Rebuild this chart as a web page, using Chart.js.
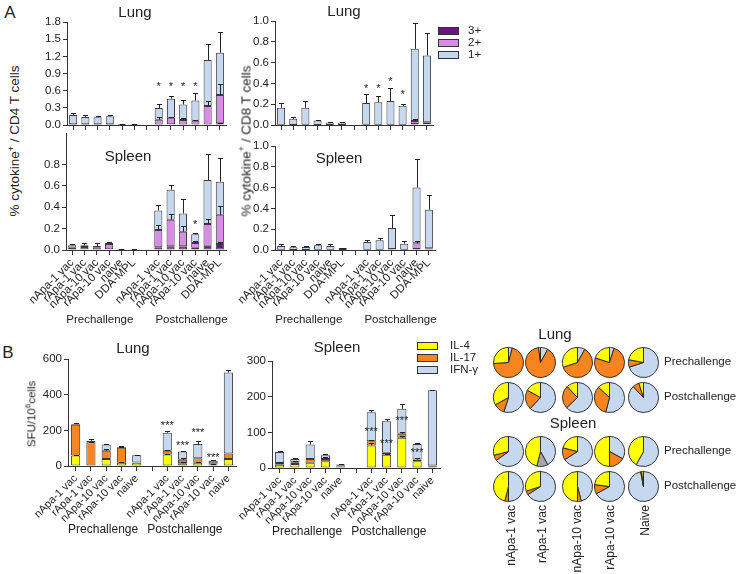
<!DOCTYPE html>
<html>
<head>
<meta charset="utf-8">
<script src="https://cdn.jsdelivr.net/npm/chart.js@4.4.1/dist/chart.umd.min.js"></script>
<style>
  body { margin: 0; background: #fff; }
  #fig { position: relative; width: 738px; height: 574px; overflow: hidden;
         font-family: 'Liberation Sans', Arial, sans-serif; color: #222; }
  #fig canvas { position: absolute; }
  .txt { position: absolute; white-space: nowrap; line-height: 1; }
  .key { position: absolute; width: 19px; height: 6px; border: 1px solid #333; }
</style>
</head>
<body>
<div id="fig"></div>
<script>
/* ================= DATA ================= */
const categoriesA = ['nApa-1 vac', 'rApa-1 vac', 'nApa-10 vac', 'rApa-10 vac', 'naive', 'DDA-MPL', '',
                     'nApa-1 vac', 'rApa-1 vac', 'nApa-10 vac', 'rApa-10 vac', 'naive', 'DDA-MPL'];
const categoriesB = ['nApa-1 vac', 'rApa-1 vac', 'nApa-10 vac', 'rApa-10 vac', 'naive', '',
                     'nApa-1 vac', 'rApa-1 vac', 'nApa-10 vac', 'rApa-10 vac', 'naive'];
const pieCategories = ['nApa-1 vac', 'rApa-1 vac', 'nApa-10 vac', 'rApa-10 vac', 'Naive'];
const phases = ['Prechallenge', 'Postchallenge'];

// A: % cytokine+ CD4 / CD8 T cells (stack: 3+, 2+, 1+) and SEM of each segment
const lungCd4_3 = [0.005, 0.005, 0.005, 0.005, 0.003, 0.002, null, 0.012, 0.015, 0.012, 0.010, 0.012, 0.034];
const lungCd4_2 = [0.010, 0.008, 0.008, 0.010, 0.005, 0.002, null, 0.080, 0.115, 0.075, 0.065, 0.320, 0.490];
const lungCd4_1 = [0.162, 0.130, 0.124, 0.139, 0.005, 0.004, null, 0.208, 0.330, 0.273, 0.355, 0.805, 0.739];
const lungCd4_err3 = [0, 0, 0, 0, 0, 0, null, 0, 0, 0, 0, 0, 0.01];
const lungCd4_err2 = [0, 0, 0, 0, 0, 0, null, 0.05, 0.01, 0.035, 0.02, 0.085, 0.196];
const lungCd4_err1 = [0.04, 0.034, 0.029, 0.026, 0.004, 0.003, null, 0.06, 0.04, 0.086, 0.13, 0.28, 0.36];
const lungCd4_stars = [null, null, null, null, null, null, null, 0.70, 0.70, 0.70, 0.70, null, null];

const lungCd8_3 = [0, 0, 0, 0, 0, 0, null, 0, 0, 0, 0, 0.010, 0.008];
const lungCd8_2 = [0.003, 0.002, 0.003, 0.002, 0.001, 0.001, null, 0.004, 0.004, 0.004, 0.003, 0.030, 0.020];
const lungCd8_1 = [0.163, 0.058, 0.163, 0.042, 0.024, 0.024, null, 0.209, 0.216, 0.228, 0.182, 0.693, 0.640];
const lungCd8_err3 = [0, 0, 0, 0, 0, 0, null, 0, 0, 0, 0, 0, 0];
const lungCd8_err2 = [0, 0, 0, 0, 0, 0, null, 0, 0, 0, 0, 0.02, 0];
const lungCd8_err1 = [0.047, 0.02, 0.066, 0.009, 0.005, 0.003, null, 0.082, 0.06, 0.122, 0.019, 0.251, 0.216];
const lungCd8_stars = [null, null, null, null, null, null, null, 0.37, 0.37, 0.43, 0.31, null, null];

const spleenCd4_3 = [0.005, 0.006, 0.005, 0.008, 0.003, 0.002, null, 0.025, 0.034, 0.034, 0.020, 0.040, 0.056];
const spleenCd4_2 = [0.015, 0.022, 0.020, 0.048, 0.003, 0.001, null, 0.162, 0.249, 0.137, 0.045, 0.203, 0.274];
const spleenCd4_1 = [0.024, 0.016, 0.012, 0.012, 0.004, 0.002, null, 0.183, 0.280, 0.171, 0.081, 0.410, 0.308];
const spleenCd4_err3 = [0, 0, 0, 0, 0, 0, null, 0, 0, 0, 0, 0, 0.022];
const spleenCd4_err2 = [0, 0, 0, 0, 0, 0, null, 0.046, 0.057, 0.053, 0.019, 0.047, 0.077];
const spleenCd4_err1 = [0.016, 0.018, 0.025, 0.007, 0.003, 0.002, null, 0.053, 0.047, 0.134, 0.013, 0.243, 0.217];
const spleenCd4_stars = [null, null, null, null, null, null, null, null, null, null, 0.25, null, null];

const spleenCd8_3 = [0, 0, 0, 0, 0, 0, null, 0, 0, 0.005, 0, 0.010, 0.005];
const spleenCd8_2 = [0.002, 0.001, 0.001, 0.002, 0.002, 0.001, null, 0.003, 0.003, 0.005, 0.002, 0.054, 0.011];
const spleenCd8_1 = [0.036, 0.025, 0.028, 0.043, 0.036, 0.018, null, 0.074, 0.090, 0.202, 0.059, 0.536, 0.372];
const spleenCd8_err3 = [0, 0, 0, 0, 0, 0, null, 0, 0, 0, 0, 0, 0];
const spleenCd8_err2 = [0, 0, 0, 0, 0, 0, null, 0, 0, 0, 0, 0.026, 0];
const spleenCd8_err1 = [0.022, 0.012, 0.013, 0.01, 0.022, 0.002, null, 0.016, 0.022, 0.128, 0.022, 0.276, 0.138];
const spleenCd8_stars = [null, null, null, null, null, null, null, null, null, null, null, null, null];

// B: SFU per 10^6 cells (stack: IL-4, IL-17, IFN-γ)
const lungIl4  = [59, 3, 39, 18, 18, null, 64, 15, 18, 9, 39];
const lungIl17 = [172, 130, 46, 85, 2, null, 21, 20, 26, 6, 31];
const lungIfn  = [6, 9, 36, 5, 40, null, 102, 47, 79, 14, 454];
const lungIl4Err  = [5, 0, 0, 6, 0, null, 6, 6, 5, 3, 0];
const lungIl17Err = [0, 4, 8, 4, 0, null, 6, 8, 0, 0, 0];
const lungIfnErr  = [5, 8, 3, 6, 2, null, 7, 4, 17, 3, 14];
const lungStars   = [null, null, null, null, null, null, 238, 125, 198, 58, null];

const spleenIl4  = [9, 11, 15, 19, 4, null, 63, 37, 85, 19, 5];
const spleenIl17 = [5, 5, 10, 6, 2, null, 12, 6, 11, 5, 2];
const spleenIfn  = [31, 9, 41, 11, 4, null, 81, 88, 70, 43, 211];
const spleenIl4Err  = [0, 0, 0, 0, 0, null, 8, 2, 4, 0, 0];
const spleenIl17Err = [2, 3, 0, 5, 0, null, 4, 0, 5, 3, 0];
const spleenIfnErr  = [2, 3, 10, 2, 2, null, 7, 6, 14, 2, 2];
const spleenStars   = [null, null, null, null, null, null, 106, 73, 137, 48, null];

// B pies: share of response, % (IFN-γ, other, IL-17, IL-4)
const lungPreIfn = [4, 8, 8, 5, 70];
const lungPreOther = [0, 0, 0, 0, 0];
const lungPreIl17 = [70, 90, 62, 75, 8];
const lungPreIl4 = [26, 2, 30, 20, 22];
const lungPostIfn = [55, 62, 63, 54, 88];
const lungPostOther = [0, 0, 0, 0, 0];
const lungPostIl17 = [12, 21, 25, 33, 7];
const lungPostIl4 = [33, 17, 12, 13, 5];
const spleenPreIfn = [65, 42, 66, 33, 58];
const spleenPreOther = [0, 12, 0, 0, 0];
const spleenPreIl17 = [6, 0, 13, 17, 0];
const spleenPreIl4 = [29, 46, 21, 50, 42];
const spleenPostIfn = [50, 66, 46, 67, 97];
const spleenPostOther = [0, 0, 0, 0, 0];
const spleenPostIl17 = [4, 4, 4, 10, 1];
const spleenPostIl4 = [46, 30, 50, 23, 2];

/* ================= STYLE ================= */
const C3 = '#6a1582', C2 = '#d98be8', C1 = '#c5d8f0';
const YEL = '#ffff00', ORA = '#f7841e', BLU = '#c5d8f0', GRY = '#a6a6a6';
const FONT = "'Liberation Sans', Arial, sans-serif";
Chart.defaults.font.family = FONT;
Chart.defaults.color = '#222';

const fig = document.getElementById('fig');

function place(left, top, w, h) {
    const c = document.createElement('canvas');
    c.width = w; c.height = h;
    c.style.left = left + 'px'; c.style.top = top + 'px';
    c.style.width = w + 'px'; c.style.height = h + 'px';
    fig.appendChild(c);
    return c;
}

function text(html, x, y, size, rot) {
    const d = document.createElement('div');
    d.className = 'txt';
    d.innerHTML = html;
    d.style.left = x + 'px'; d.style.top = y + 'px';
    d.style.fontSize = size + 'px';
    d.style.transform = 'translate(-50%,-50%)' + (rot ? ' rotate(' + rot + 'deg)' : '');
    fig.appendChild(d);
    return d;
}

// error bars, significance stars and the Pre/Post group captions
const marks = {
    id: 'marks',
    afterDatasetsDraw(chart, args, opts) {
        if (!opts.groups) return;
        const ctx = chart.ctx, xs = chart.scales.x, ys = chart.scales.y;
        const sets = chart.data.datasets;
        ctx.save();
        ctx.strokeStyle = '#222';
        ctx.lineWidth = 1;
        sets.forEach((ds, i) => {
            const meta = chart.getDatasetMeta(i);
            ds.data.forEach((v, j) => {
                const e = ds.errors[j];
                if (v == null || !e) return;
                let cum = 0;
                for (let k = 0; k <= i; k++) cum += sets[k].data[j] || 0;
                const x0 = Math.round(meta.data[j].x) + 0.5;
                const yb = ys.getPixelForValue(cum);
                const yt = Math.round(ys.getPixelForValue(cum + e)) + 0.5;
                ctx.beginPath();
                ctx.moveTo(x0, yb); ctx.lineTo(x0, yt);
                ctx.moveTo(x0 - opts.cap, yt); ctx.lineTo(x0 + opts.cap, yt);
                ctx.stroke();
            });
        });
        ctx.fillStyle = '#222';
        ctx.textAlign = 'center';
        ctx.textBaseline = 'middle';
        ctx.font = opts.starFont;
        opts.stars.forEach((s, j) => {
            if (s == null) return;
            ctx.fillText(opts.starText, xs.getPixelForValue(j), ys.getPixelForValue(s) + opts.starShift);
        });
        ctx.font = opts.groupFont;
        opts.groups.forEach((g, k) => {
            ctx.fillText(g, xs.getPixelForValue(opts.groupPos[k]), xs.top + opts.groupDy);
        });
        ctx.restore();
    }
};
Chart.register(marks);

function barChart(box, labels, series, o) {
    const yW = 42, padTop = 10, padRight = 7;
    const canvas = place(box.x0 - yW, box.y0 - padTop,
                         box.x1 - box.x0 + yW + padRight, box.y1 - box.y0 + padTop + o.xH);
    return new Chart(canvas, {
        type: 'bar',
        data: {
            labels: labels,
            datasets: series.map(s => ({
                label: s.label, data: s.data, errors: s.err,
                backgroundColor: s.color, borderColor: '#3a3a3a', borderWidth: 1,
                borderSkipped: false, barPercentage: o.barPct, categoryPercentage: 1
            }))
        },
        options: {
            responsive: false,
            animation: false,
            layout: { padding: { top: padTop, right: padRight, left: 0, bottom: 0 } },
            plugins: {
                legend: { display: false },
                tooltip: { enabled: false },
                marks: {
                    cap: 2.5, stars: o.stars, starText: o.starText, starFont: o.starFont,
                    starShift: o.starShift, groups: o.showLabels ? phases : [],
                    groupPos: o.groupPos, groupDy: o.groupDy, groupFont: o.groupFont
                }
            },
            scales: {
                x: {
                    stacked: true,
                    offset: true,
                    afterFit: s => { s.height = o.xH; },
                    border: { color: '#333', width: 1 },
                    grid: { offset: false, drawOnChartArea: false, tickLength: 5, tickColor: '#333' },
                    ticks: { display: o.showLabels, autoSkip: false, minRotation: 45, maxRotation: 45,
                             padding: 1, font: { size: o.tickSize }, color: '#222' }
                },
                y: {
                    stacked: true,
                    min: 0,
                    max: o.max,
                    afterFit: s => { s.width = yW; },
                    afterBuildTicks: s => { s.ticks = s.ticks.filter(t => t.value <= o.tickMax + 1e-6); },
                    border: { color: '#333', width: 1 },
                    grid: { drawOnChartArea: false, tickLength: 4, tickColor: '#333' },
                    ticks: { stepSize: o.step, padding: 2, font: { size: 11.5 }, color: '#222',
                             callback: v => v.toFixed(o.dec) }
                }
            }
        }
    });
}

function seriesA(s3, s2, s1, e3, e2, e1) {
    return [
        { label: '3+', data: s3, err: e3, color: C3 },
        { label: '2+', data: s2, err: e2, color: C2 },
        { label: '1+', data: s1, err: e1, color: C1 }
    ];
}

function seriesB(il4, il17, ifn, e4, e17, eg) {
    return [
        { label: 'IL-4', data: il4, err: e4, color: YEL },
        { label: 'IL-17', data: il17, err: e17, color: ORA },
        { label: 'IFN-γ', data: ifn, err: eg, color: BLU }
    ];
}

/* ================= PANEL A ================= */
const baseA = { barPct: 0.66, starText: '*', starFont: '11px ' + FONT, starShift: 2,
                groupPos: [2.25, 9.7], groupDy: 70, groupFont: '11.5px ' + FONT, tickSize: 11.5, dec: 1 };

barChart({ x0: 67, x1: 226, y0: 22, y1: 127 }, categoriesA,
    seriesA(lungCd4_3, lungCd4_2, lungCd4_1, lungCd4_err3, lungCd4_err2, lungCd4_err1),
    Object.assign({}, baseA, { max: 1.8, tickMax: 1.8, step: 0.3, xH: 7, showLabels: false, stars: lungCd4_stars }));

barChart({ x0: 275, x1: 433, y0: 21, y1: 127 }, categoriesA,
    seriesA(lungCd8_3, lungCd8_2, lungCd8_1, lungCd8_err3, lungCd8_err2, lungCd8_err1),
    Object.assign({}, baseA, { max: 1.0, tickMax: 1.0, step: 0.2, xH: 7, showLabels: false, stars: lungCd8_stars }));

barChart({ x0: 66, x1: 226, y0: 133, y1: 250 }, categoriesA,
    seriesA(spleenCd4_3, spleenCd4_2, spleenCd4_1, spleenCd4_err3, spleenCd4_err2, spleenCd4_err1),
    Object.assign({}, baseA, { max: 1.093, tickMax: 1.0, step: 0.2, xH: 80, showLabels: true, stars: spleenCd4_stars }));

barChart({ x0: 275, x1: 435, y0: 146, y1: 250 }, categoriesA,
    seriesA(spleenCd8_3, spleenCd8_2, spleenCd8_1, spleenCd8_err3, spleenCd8_err2, spleenCd8_err1),
    Object.assign({}, baseA, { max: 1.0, tickMax: 1.0, step: 0.2, xH: 80, showLabels: true, stars: spleenCd8_stars }));

text('A', 10, 12, 17);
text('Lung', 135, 11, 15);
text('Lung', 344, 10, 15);
text('Spleen', 128, 155, 15);
text('Spleen', 339, 157, 15);
text('% cytokine<sup style="font-size:9px">+</sup> / CD4 T cells', 14, 141, 13.5, -90);
text('% cytokine<sup style="font-size:9px">+</sup> / CD8 T cells', 245, 141, 13.5, -90);

[['3+', C3], ['2+', C2], ['1+', C1]].forEach((k, i) => {
    const b = document.createElement('div');
    b.className = 'key';
    b.style.left = '438px'; b.style.top = (27 + i * 12) + 'px';
    b.style.background = k[1];
    fig.appendChild(b);
    const t = text(k[0], 468, 31 + i * 12, 11.5);
    t.style.transform = 'translate(0,-50%)';
});

/* ================= PANEL B ================= */
const baseB = { barPct: 0.6, starText: '***', starFont: '11px ' + FONT, starShift: 2,
                groupPos: [1.8, 7.15], groupDy: 64, groupFont: '12px ' + FONT, tickSize: 11,
                dec: 0, xH: 74, showLabels: true };

barChart({ x0: 68, x1: 236, y0: 359, y1: 466 }, categoriesB,
    seriesB(lungIl4, lungIl17, lungIfn, lungIl4Err, lungIl17Err, lungIfnErr),
    Object.assign({}, baseB, { max: 600, tickMax: 600, step: 200, stars: lungStars }));

barChart({ x0: 272, x1: 440, y0: 361, y1: 468 }, categoriesB,
    seriesB(spleenIl4, spleenIl17, spleenIfn, spleenIl4Err, spleenIl17Err, spleenIfnErr),
    Object.assign({}, baseB, { max: 300, tickMax: 300, step: 100, stars: spleenStars }));

text('B', 8, 352, 17);
text('Lung', 133, 347, 15);
text('Spleen', 337, 346, 15);
text('SFU/10<sup style="font-size:8px">6</sup>cells', 31, 414, 11.5, -90);

[['IL-4', YEL], ['IL-17', ORA], ['IFN-γ', BLU]].forEach((k, i) => {
    const b = document.createElement('div');
    b.className = 'key';
    b.style.left = '417px'; b.style.top = (342 + i * 12) + 'px';
    b.style.background = k[1];
    fig.appendChild(b);
    const t = text(k[0], 450, 346 + i * 12, 11.5);
    t.style.transform = 'translate(0,-50%)';
});

// pies
const pieX = [508, 540, 577, 609, 643];
const pieRows = [
    { y: 362, ifn: lungPreIfn, other: lungPreOther, il17: lungPreIl17, il4: lungPreIl4, phase: 0 },
    { y: 397, ifn: lungPostIfn, other: lungPostOther, il17: lungPostIl17, il4: lungPostIl4, phase: 1 },
    { y: 451, ifn: spleenPreIfn, other: spleenPreOther, il17: spleenPreIl17, il4: spleenPreIl4, phase: 0 },
    { y: 486, ifn: spleenPostIfn, other: spleenPostOther, il17: spleenPostIl17, il4: spleenPostIl4, phase: 1 }
];

pieRows.forEach(row => {
    pieX.forEach((cx, i) => {
        const s = 33;
        const vals = [row.ifn[i], row.other[i], row.il17[i], row.il4[i]];
        new Chart(place(cx - s / 2, row.y - s / 2, s, s), {
            type: 'pie',
            data: {
                labels: ['IFN-γ', 'other', 'IL-17', 'IL-4'],
                datasets: [{ data: vals.map(v => v || null), backgroundColor: [BLU, GRY, ORA, YEL],
                             borderColor: '#222', borderWidth: 0.9 }]
            },
            options: {
                responsive: false, animation: false,
                layout: { padding: 1 },
                plugins: { legend: { display: false }, tooltip: { enabled: false } }
            }
        });
    });
    const t = text(phases[row.phase], 664, row.y, 11.5);
    t.style.transform = 'translate(0,-50%)';
});

text('Lung', 555, 333, 15);
text('Spleen', 573, 422, 15);

const pieLabelX = [511, 542, 577, 610, 645];
pieCategories.forEach((c, i) => {
    const d = text(c, pieLabelX[i], 505, 12);
    d.style.transformOrigin = '0 0';
    d.style.transform = 'rotate(-90deg) translate(-100%,-50%)';
});
</script>
</body>
</html>
